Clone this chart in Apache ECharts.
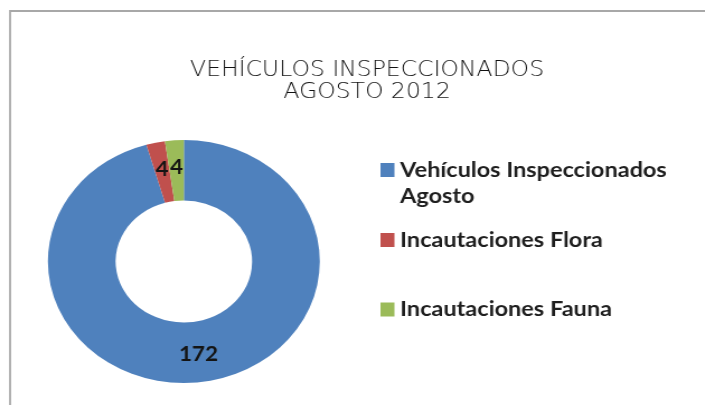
<!DOCTYPE html>
<html>
<head>
<meta charset="utf-8">
<script src="https://cdn.jsdelivr.net/npm/echarts@6/dist/echarts.min.js"></script>
<style>
  html, body { margin: 0; padding: 0; background: #fff; overflow: hidden; }
  /* el gráfico original está estirado horizontalmente */
  #chart { width: 630px; height: 405px; transform: scaleX(1.119); transform-origin: 0 0; }
</style>
</head>
<body>
<div id="chart"></div>
<script>
// datos
const titleText = 'VEHÍCULOS INSPECCIONADOS\nAGOSTO 2012';
const categories = ['Vehículos Inspeccionados\nAgosto', 'Incautaciones Flora', 'Incautaciones Fauna'];
const values = [172, 4, 4];
const colors = ['#4F81BD', '#C0504D', '#9BBB59'];

const chart = echarts.init(document.getElementById('chart'));

const pieData = categories.map((name, i) => ({
  name: name,
  value: values[i],
  itemStyle: { color: colors[i] }
}));

// una leyenda por elemento, para respetar la separación del original
const legendTops = [131, 227, 296.5];
const legends = categories.map((name, i) => ({
  data: [name],
  orient: 'vertical',
  left: 340,
  top: legendTops[i],
  padding: 0,
  icon: 'rect',
  itemWidth: 12.5,
  itemHeight: 14,
  // línea vacía arriba para que el cuadro quede junto a la primera línea
  formatter: i === 0 ? (n => '\n' + n) : '{name}',
  textStyle: {
    fontFamily: 'Lato',
    fontWeight: 'bold',
    fontSize: 21,
    color: '#1e1e1e',
    lineHeight: 26
  }
}));

const option = {
  animation: false,
  title: {
    text: titleText,
    left: 328,
    top: 60,
    padding: 0,
    textAlign: 'center',
    textStyle: {
      fontFamily: 'DejaVu Sans',
      fontWeight: 200,
      fontSize: 21,
      lineHeight: 22,
      color: '#111'
    }
  },
  legend: legends,
  graphic: [
    { type: 'line', shape: { x1: 9, y1: 11, x2: 640, y2: 11 }, style: { stroke: '#a8a8a8', lineWidth: 2 } },
    { type: 'line', shape: { x1: 9, y1: 10, x2: 9, y2: 410 }, style: { stroke: '#a8a8a8', lineWidth: 1.8 } }
  ],
  series: [
    {
      type: 'pie',
      center: [164.3, 261.5],
      radius: [61, 121.5],
      startAngle: 90,
      clockwise: true,
      avoidLabelOverlap: false,
      label: {
        show: true,
        position: 'inside',
        formatter: '{c}',
        fontFamily: 'Lato',
        fontWeight: 'bold',
        fontSize: 20,
        color: '#141414'
      },
      labelLine: { show: false },
      emphasis: { disabled: true },
      data: pieData
    }
  ]
};

chart.setOption(option);
</script>
</body>
</html>
